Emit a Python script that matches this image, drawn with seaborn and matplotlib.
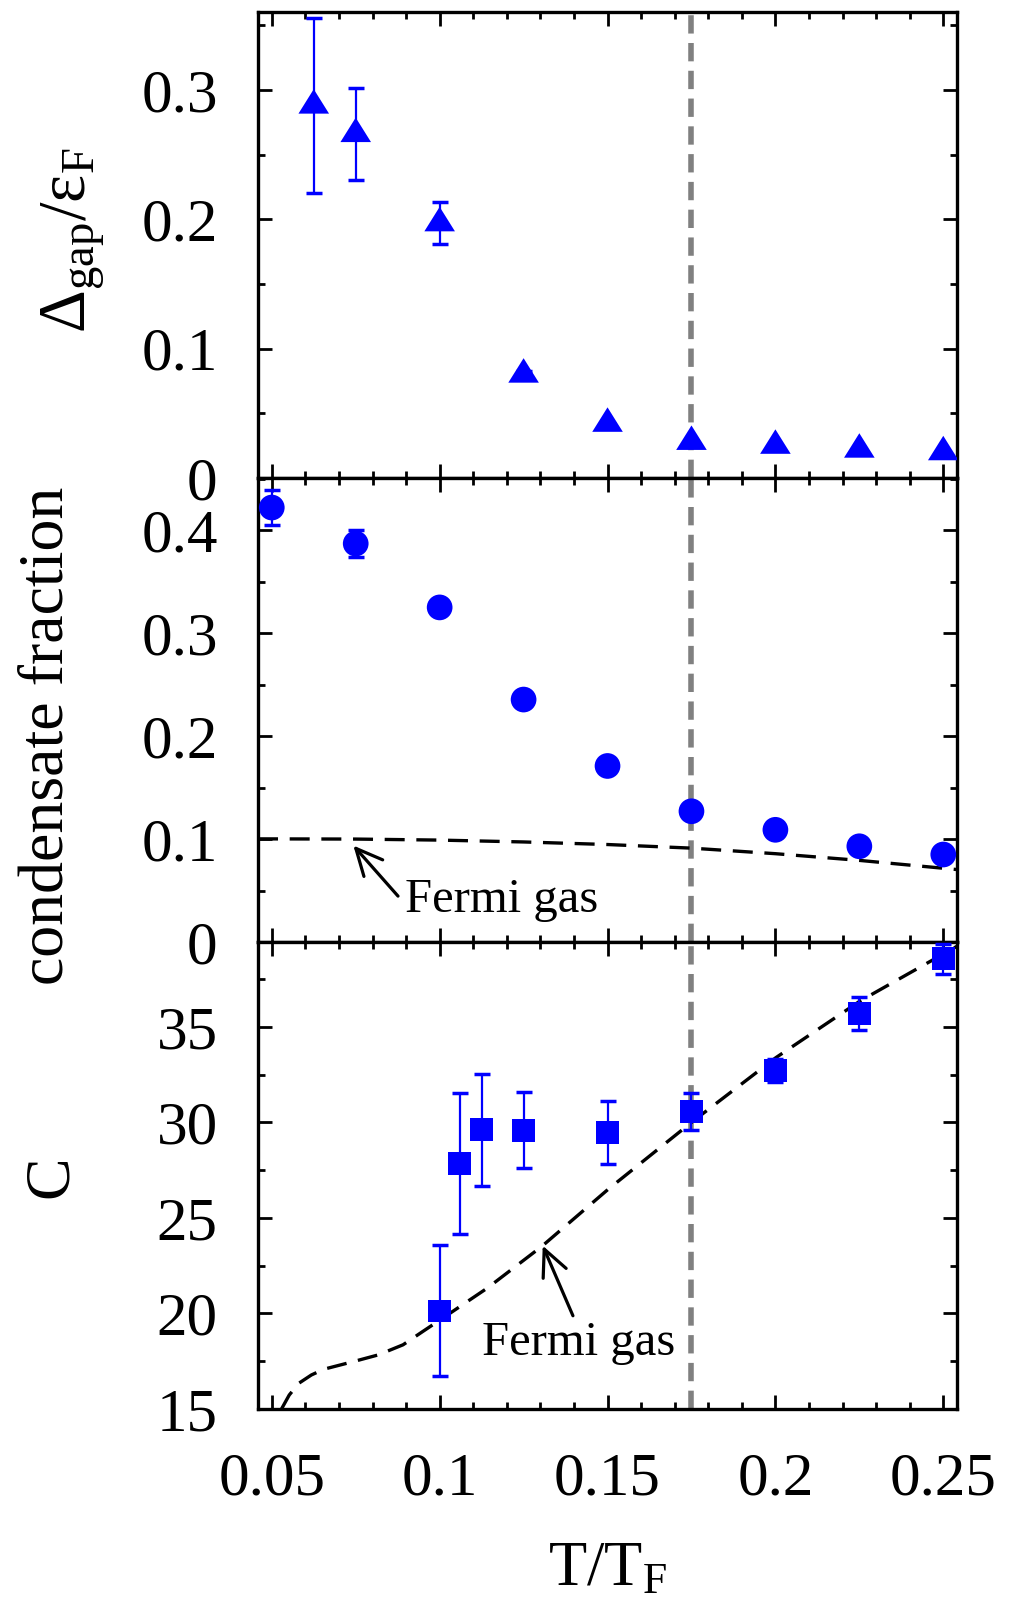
import numpy as np
import matplotlib
matplotlib.use("Agg")
import matplotlib.pyplot as plt
from matplotlib.ticker import MultipleLocator, FuncFormatter
import seaborn as sns

# ---------------- data ----------------
T_gap = [0.0625, 0.075, 0.1, 0.125, 0.15, 0.175, 0.2, 0.225, 0.25]
gap = [0.288, 0.266, 0.197, 0.080, 0.042, 0.028, 0.025, 0.022, 0.020]
gap_err = [0.0675, 0.0357, 0.0162, 0.003, 0.0, 0.0, 0.0, 0.0, 0.0]

T_cf = [0.05, 0.075, 0.1, 0.125, 0.15, 0.175, 0.2, 0.225, 0.25]
cf = [0.422, 0.387, 0.325, 0.2355, 0.171, 0.127, 0.109, 0.093, 0.085]
cf_err = [0.017, 0.0135, 0.0, 0.0, 0.0, 0.0, 0.0, 0.0, 0.0]

T_fg_cf = [0.0459, 0.075, 0.1, 0.125, 0.15, 0.175, 0.2, 0.225, 0.2541]
fg_cf = [0.1002, 0.1000, 0.0990, 0.0972, 0.0947, 0.0912, 0.0858, 0.0793, 0.0704]

T_C = [0.1, 0.106, 0.1125, 0.125, 0.15, 0.175, 0.2, 0.225, 0.25]
C = [20.13, 27.84, 29.61, 29.60, 29.47, 30.58, 32.73, 35.70, 38.58]
C_err = [3.43, 3.68, 2.91, 2.00, 1.64, 0.96, 0.61, 0.87, 0.78]

T_fg_C = [0.0529, 0.0552, 0.0581, 0.0618, 0.0655, 0.0743, 0.0817, 0.0891,
          0.0950, 0.1002, 0.1142, 0.1304, 0.1501, 0.1751, 0.2001, 0.2252, 0.2543]
fg_C = [15.0, 15.73, 16.35, 16.78, 17.08, 17.48, 17.83, 18.36,
        19.06, 19.67, 21.33, 23.51, 26.49, 30.02, 33.39, 36.36, 39.25]

T_c = 0.175

# ---------------- style ----------------
sns.set_theme(style="ticks")
plt.rcParams["font.family"] = "serif"
plt.rcParams["font.serif"] = ["Liberation Serif", "DejaVu Serif"]
plt.rcParams["mathtext.fontset"] = "custom"
plt.rcParams["mathtext.rm"] = "Liberation Serif"
plt.rcParams["mathtext.it"] = "Liberation Serif:italic"
plt.rcParams["mathtext.bf"] = "Liberation Serif:bold"
for k in ("text.color", "axes.labelcolor", "xtick.color", "ytick.color",
          "axes.edgecolor"):
    plt.rcParams[k] = "black"

BLUE = "#0000FF"
GREY = "#808080"
TICK_FS = 44
LABEL_FS = 46
ANN_FS = 35

fig = plt.figure(figsize=(10.15, 16.04), dpi=100)
L, W = 0.2542, 0.6887
ax1 = fig.add_axes([L, 0.7020, W, 0.2903])
ax2 = fig.add_axes([L, 0.4127, W, 0.2893], sharex=ax1)
ax3 = fig.add_axes([L, 0.1216, W, 0.2911], sharex=ax1)

tri = [(-1, -0.533), (1, -0.533), (0, 1.067)]
eb = dict(fmt="none", ecolor=BLUE, elinewidth=1.6, capsize=5.5, capthick=2.5, zorder=3)

# top panel: gap
ax1.errorbar(T_gap, gap, yerr=gap_err, **eb)
sns.scatterplot(x=T_gap, y=gap, ax=ax1, marker=tri, s=23.5 ** 2,
                color=BLUE, edgecolor="none", linewidth=0, zorder=4)

# middle panel: condensate fraction
sns.lineplot(x=T_fg_cf, y=fg_cf, ax=ax2, color="black", lw=2.4,
             linestyle=(0, (6, 3.5)), estimator=None, zorder=2)
ax2.errorbar(T_cf, cf, yerr=cf_err, **eb)
sns.scatterplot(x=T_cf, y=cf, ax=ax2, marker="o", s=18.5 ** 2,
                color=BLUE, edgecolor="none", linewidth=0, zorder=4)

# bottom panel: contact
sns.lineplot(x=T_fg_C, y=fg_C, ax=ax3, color="black", lw=2.4,
             linestyle=(0, (6, 3.5)), estimator=None, zorder=2)
ax3.errorbar(T_C, C, yerr=C_err, **eb)
sns.scatterplot(x=T_C, y=C, ax=ax3, marker="s", s=16.5 ** 2,
                color=BLUE, edgecolor="none", linewidth=0, zorder=4)

# vertical T_c line
for ax in (ax1, ax2, ax3):
    ax.axvline(T_c, color=GREY, lw=4, linestyle=(0, (3.3, 1.7)), zorder=1)

# annotations
arrow = dict(arrowstyle="->,head_length=0.95,head_width=0.45", color="black",
             lw=2.3, mutation_scale=20, shrinkA=0, shrinkB=0)
ax2.annotate("", xy=(0.0743, 0.0937), xytext=(0.0876, 0.0446), arrowprops=arrow)
ax2.text(0.0898, 0.0291, "Fermi gas", fontsize=ANN_FS, ha="left", va="baseline")
ax3.annotate("", xy=(0.1307, 23.55), xytext=(0.1397, 19.88), arrowprops=arrow)
ax3.text(0.1127, 17.83, "Fermi gas", fontsize=ANN_FS, ha="left", va="baseline")

# axes limits / ticks
ax1.set_xlim(0.0459, 0.2541)
ax1.set_ylim(0, 0.36)
ax2.set_ylim(0, 0.4507)
ax3.set_ylim(15, 39.45)

fmt = FuncFormatter(lambda v, p: "{:g}".format(round(v, 6)))
for ax, maj, mnr in ((ax1, 0.1, 0.05), (ax2, 0.1, 0.05), (ax3, 5, 2.5)):
    ax.xaxis.set_major_locator(MultipleLocator(0.05))
    ax.xaxis.set_minor_locator(MultipleLocator(0.01))
    ax.yaxis.set_major_locator(MultipleLocator(maj))
    ax.yaxis.set_minor_locator(MultipleLocator(mnr))
    ax.yaxis.set_major_formatter(fmt)
    ax.xaxis.set_major_formatter(fmt)
    ax.tick_params(which="both", direction="in", top=True, right=True,
                   bottom=True, left=True, color="black")
    ax.tick_params(which="major", length=10, width=2.0)
    ax.tick_params(which="minor", length=5, width=2.0)
    ax.tick_params(axis="y", which="major", labelsize=TICK_FS, pad=29)
    ax.tick_params(axis="x", which="major", labelsize=TICK_FS, pad=31)
    for s in ax.spines.values():
        s.set_linewidth(2.4)
        s.set_color("black")
    ax.set_facecolor("white")

for ax in (ax1, ax2):
    ax.tick_params(axis="x", labelbottom=False)

# labels
ax1.set_ylabel(r"$\mathrm{Δ_{gap}/ε_F}$", fontsize=48, va="baseline")
ax1.yaxis.set_label_coords(-0.247, 0.51)
ax2.set_ylabel("condensate fraction", fontsize=LABEL_FS, va="baseline")
ax2.yaxis.set_label_coords(-0.280, 0.444)
ax3.set_ylabel("C", fontsize=LABEL_FS, va="baseline")
ax3.yaxis.set_label_coords(-0.273, 0.497)
ax3.set_xlabel(r"$\mathrm{T/T_F}$", fontsize=45, va="baseline")
ax3.xaxis.set_label_coords(0.5, -0.377)

fig.savefig("out.png", dpi=100, facecolor="white")
